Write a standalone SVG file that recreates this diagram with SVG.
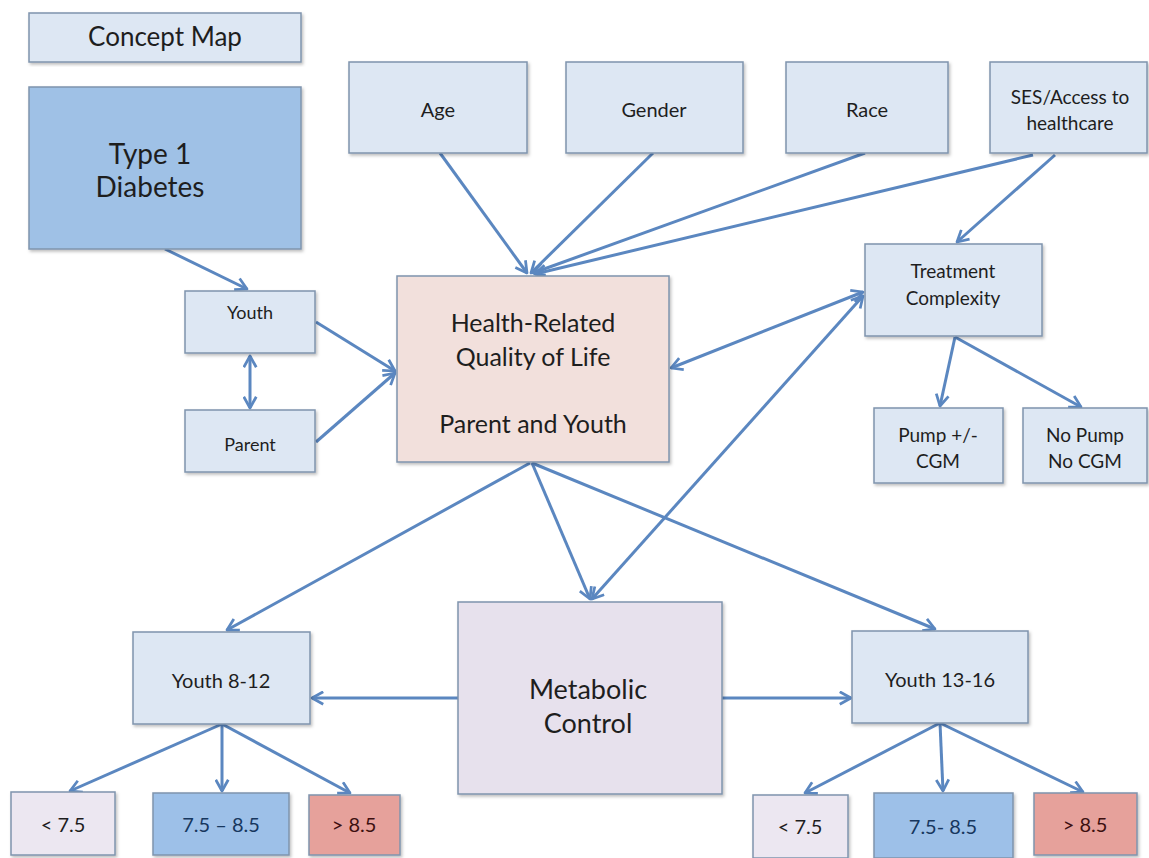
<svg xmlns="http://www.w3.org/2000/svg" width="1149" height="858" viewBox="0 0 1149 858">
<style>
.bx{fill:#dde7f3;stroke:#7f94ad;stroke-width:1.5}
.t{font-family:Lato,"Open Sans","Liberation Sans",sans-serif;fill:#1e1e1e;text-anchor:middle}
.c{stroke:#5b87c0;stroke-width:3;fill:none;marker-end:url(#ah)}
.b{marker-start:url(#ah)}
</style>
<defs>
<filter id="sh" x="-5%" y="-5%" width="115%" height="115%"><feDropShadow dx="1.5" dy="2" stdDeviation="1.5" flood-color="#000" flood-opacity="0.25"/></filter>
<marker id="ah" viewBox="0 0 12 12" refX="10" refY="6" markerWidth="5" markerHeight="5" orient="auto-start-reverse"><path d="M1,1 L10,6 L1,11" fill="none" stroke="#5b87c0" stroke-width="2.2" stroke-linejoin="round"/></marker>
</defs>
<rect width="1149" height="858" fill="#ffffff"/>
<g id="connectors">
<line class="c" x1="165" y1="249" x2="247" y2="289"/>
<line class="c" x1="316" y1="322" x2="395" y2="371"/>
<line class="c" x1="316" y1="442" x2="395" y2="373"/>
<line class="c b" x1="250" y1="356" x2="250" y2="408"/>
<line class="c" x1="440" y1="153" x2="527" y2="273"/>
<line class="c" x1="653" y1="153" x2="531" y2="273"/>
<line class="c" x1="865" y1="153" x2="533" y2="273"/>
<line class="c" x1="1033" y1="155" x2="535" y2="274"/>
<line class="c" x1="1055" y1="155" x2="957" y2="242"/>
<line class="c b" x1="671" y1="368" x2="863" y2="292"/>
<line class="c b" x1="863" y1="296" x2="592" y2="599"/>
<line class="c" x1="532" y1="463" x2="590" y2="599"/>
<line class="c" x1="530" y1="463" x2="227" y2="630"/>
<line class="c" x1="532" y1="463" x2="935" y2="629"/>
<line class="c" x1="458" y1="698" x2="312" y2="698"/>
<line class="c" x1="722" y1="698" x2="851" y2="698"/>
<line class="c" x1="955" y1="337" x2="940" y2="406"/>
<line class="c" x1="955" y1="337" x2="1081" y2="407"/>
<line class="c" x1="222" y1="724" x2="70" y2="791"/>
<line class="c" x1="222" y1="724" x2="222" y2="791"/>
<line class="c" x1="222" y1="724" x2="350" y2="793"/>
<line class="c" x1="940" y1="723" x2="805" y2="793"/>
<line class="c" x1="940" y1="723" x2="943" y2="791"/>
<line class="c" x1="940" y1="723" x2="1083" y2="792"/>
</g>
<g id="concept-map"><rect class="bx" filter="url(#sh)" x="29" y="13" width="272" height="49"/><text class="t" x="165" y="46" font-size="26">Concept Map</text></g>
<g id="type1"><rect class="bx" filter="url(#sh)" x="29" y="87" width="272" height="162" style="fill:#9fc1e6"/><text class="t" x="150" y="164" font-size="28">Type 1</text><text class="t" x="150" y="197" font-size="28">Diabetes</text></g>
<g id="age"><rect class="bx" filter="url(#sh)" x="349" y="62" width="178" height="91"/><text class="t" x="438" y="117" font-size="20">Age</text></g>
<g id="gender"><rect class="bx" filter="url(#sh)" x="566" y="62" width="177" height="91"/><text class="t" x="654" y="117" font-size="20">Gender</text></g>
<g id="race"><rect class="bx" filter="url(#sh)" x="786" y="62" width="162" height="91"/><text class="t" x="867" y="117" font-size="20">Race</text></g>
<g id="ses"><rect class="bx" filter="url(#sh)" x="990" y="62" width="157" height="91"/><text class="t" x="1070" y="104" font-size="19">SES/Access to</text><text class="t" x="1070" y="130" font-size="19">healthcare</text></g>
<g id="treatment"><rect class="bx" filter="url(#sh)" x="865" y="244" width="177" height="92"/><text class="t" x="953" y="278" font-size="19">Treatment</text><text class="t" x="953" y="305" font-size="19">Complexity</text></g>
<g id="pump"><rect class="bx" filter="url(#sh)" x="874" y="408" width="129" height="75"/><text class="t" x="938" y="442" font-size="19">Pump +/-</text><text class="t" x="938" y="468" font-size="19">CGM</text></g>
<g id="nopump"><rect class="bx" filter="url(#sh)" x="1023" y="408" width="124" height="75"/><text class="t" x="1085" y="442" font-size="19">No Pump</text><text class="t" x="1085" y="468" font-size="19">No CGM</text></g>
<g id="youth"><rect class="bx" filter="url(#sh)" x="185" y="291" width="130" height="62"/><text class="t" x="250" y="319" font-size="18">Youth</text></g>
<g id="parent"><rect class="bx" filter="url(#sh)" x="185" y="410" width="130" height="62"/><text class="t" x="250" y="451" font-size="18">Parent</text></g>
<g id="hrqol"><rect class="bx" filter="url(#sh)" x="397" y="276" width="272" height="186" style="fill:#f2e0dc"/><text class="t" x="533" y="332" font-size="25">Health-Related</text><text class="t" x="533" y="366" font-size="25">Quality of Life</text><text class="t" x="533" y="433" font-size="25">Parent and Youth</text></g>
<g id="metabolic"><rect class="bx" filter="url(#sh)" x="458" y="602" width="264" height="192" style="fill:#e7e1ed"/><text class="t" x="588" y="699" font-size="27">Metabolic</text><text class="t" x="588" y="733" font-size="27">Control</text></g>
<g id="youth812"><rect class="bx" filter="url(#sh)" x="133" y="632" width="177" height="92"/><text class="t" x="221" y="688" font-size="20">Youth 8-12</text></g>
<g id="youth1316"><rect class="bx" filter="url(#sh)" x="852" y="631" width="176" height="92"/><text class="t" x="940" y="687" font-size="20">Youth 13-16</text></g>
<g id="l-low"><rect class="bx" filter="url(#sh)" x="11" y="792" width="104" height="63" style="fill:#ece7f1"/><text class="t" x="63" y="832" font-size="20">&lt; 7.5</text></g>
<g id="l-mid"><rect class="bx" filter="url(#sh)" x="153" y="793" width="136" height="62" style="fill:#9dc0e8"/><text class="t" x="221" y="832" font-size="20" style="fill:#17375e">7.5 – 8.5</text></g>
<g id="l-high"><rect class="bx" filter="url(#sh)" x="309" y="795" width="91" height="60" style="fill:#e6a19b"/><text class="t" x="354" y="832" font-size="20" style="fill:#3d1010">&gt; 8.5</text></g>
<g id="r-low"><rect class="bx" filter="url(#sh)" x="753" y="795" width="95" height="63" style="fill:#ece7f1"/><text class="t" x="800" y="834" font-size="20">&lt; 7.5</text></g>
<g id="r-mid"><rect class="bx" filter="url(#sh)" x="874" y="793" width="139" height="65" style="fill:#9dc0e8"/><text class="t" x="943" y="834" font-size="20" style="fill:#17375e">7.5- 8.5</text></g>
<g id="r-high"><rect class="bx" filter="url(#sh)" x="1034" y="793" width="103" height="62" style="fill:#e6a19b"/><text class="t" x="1085" y="832" font-size="20" style="fill:#3d1010">&gt; 8.5</text></g>
</svg>
